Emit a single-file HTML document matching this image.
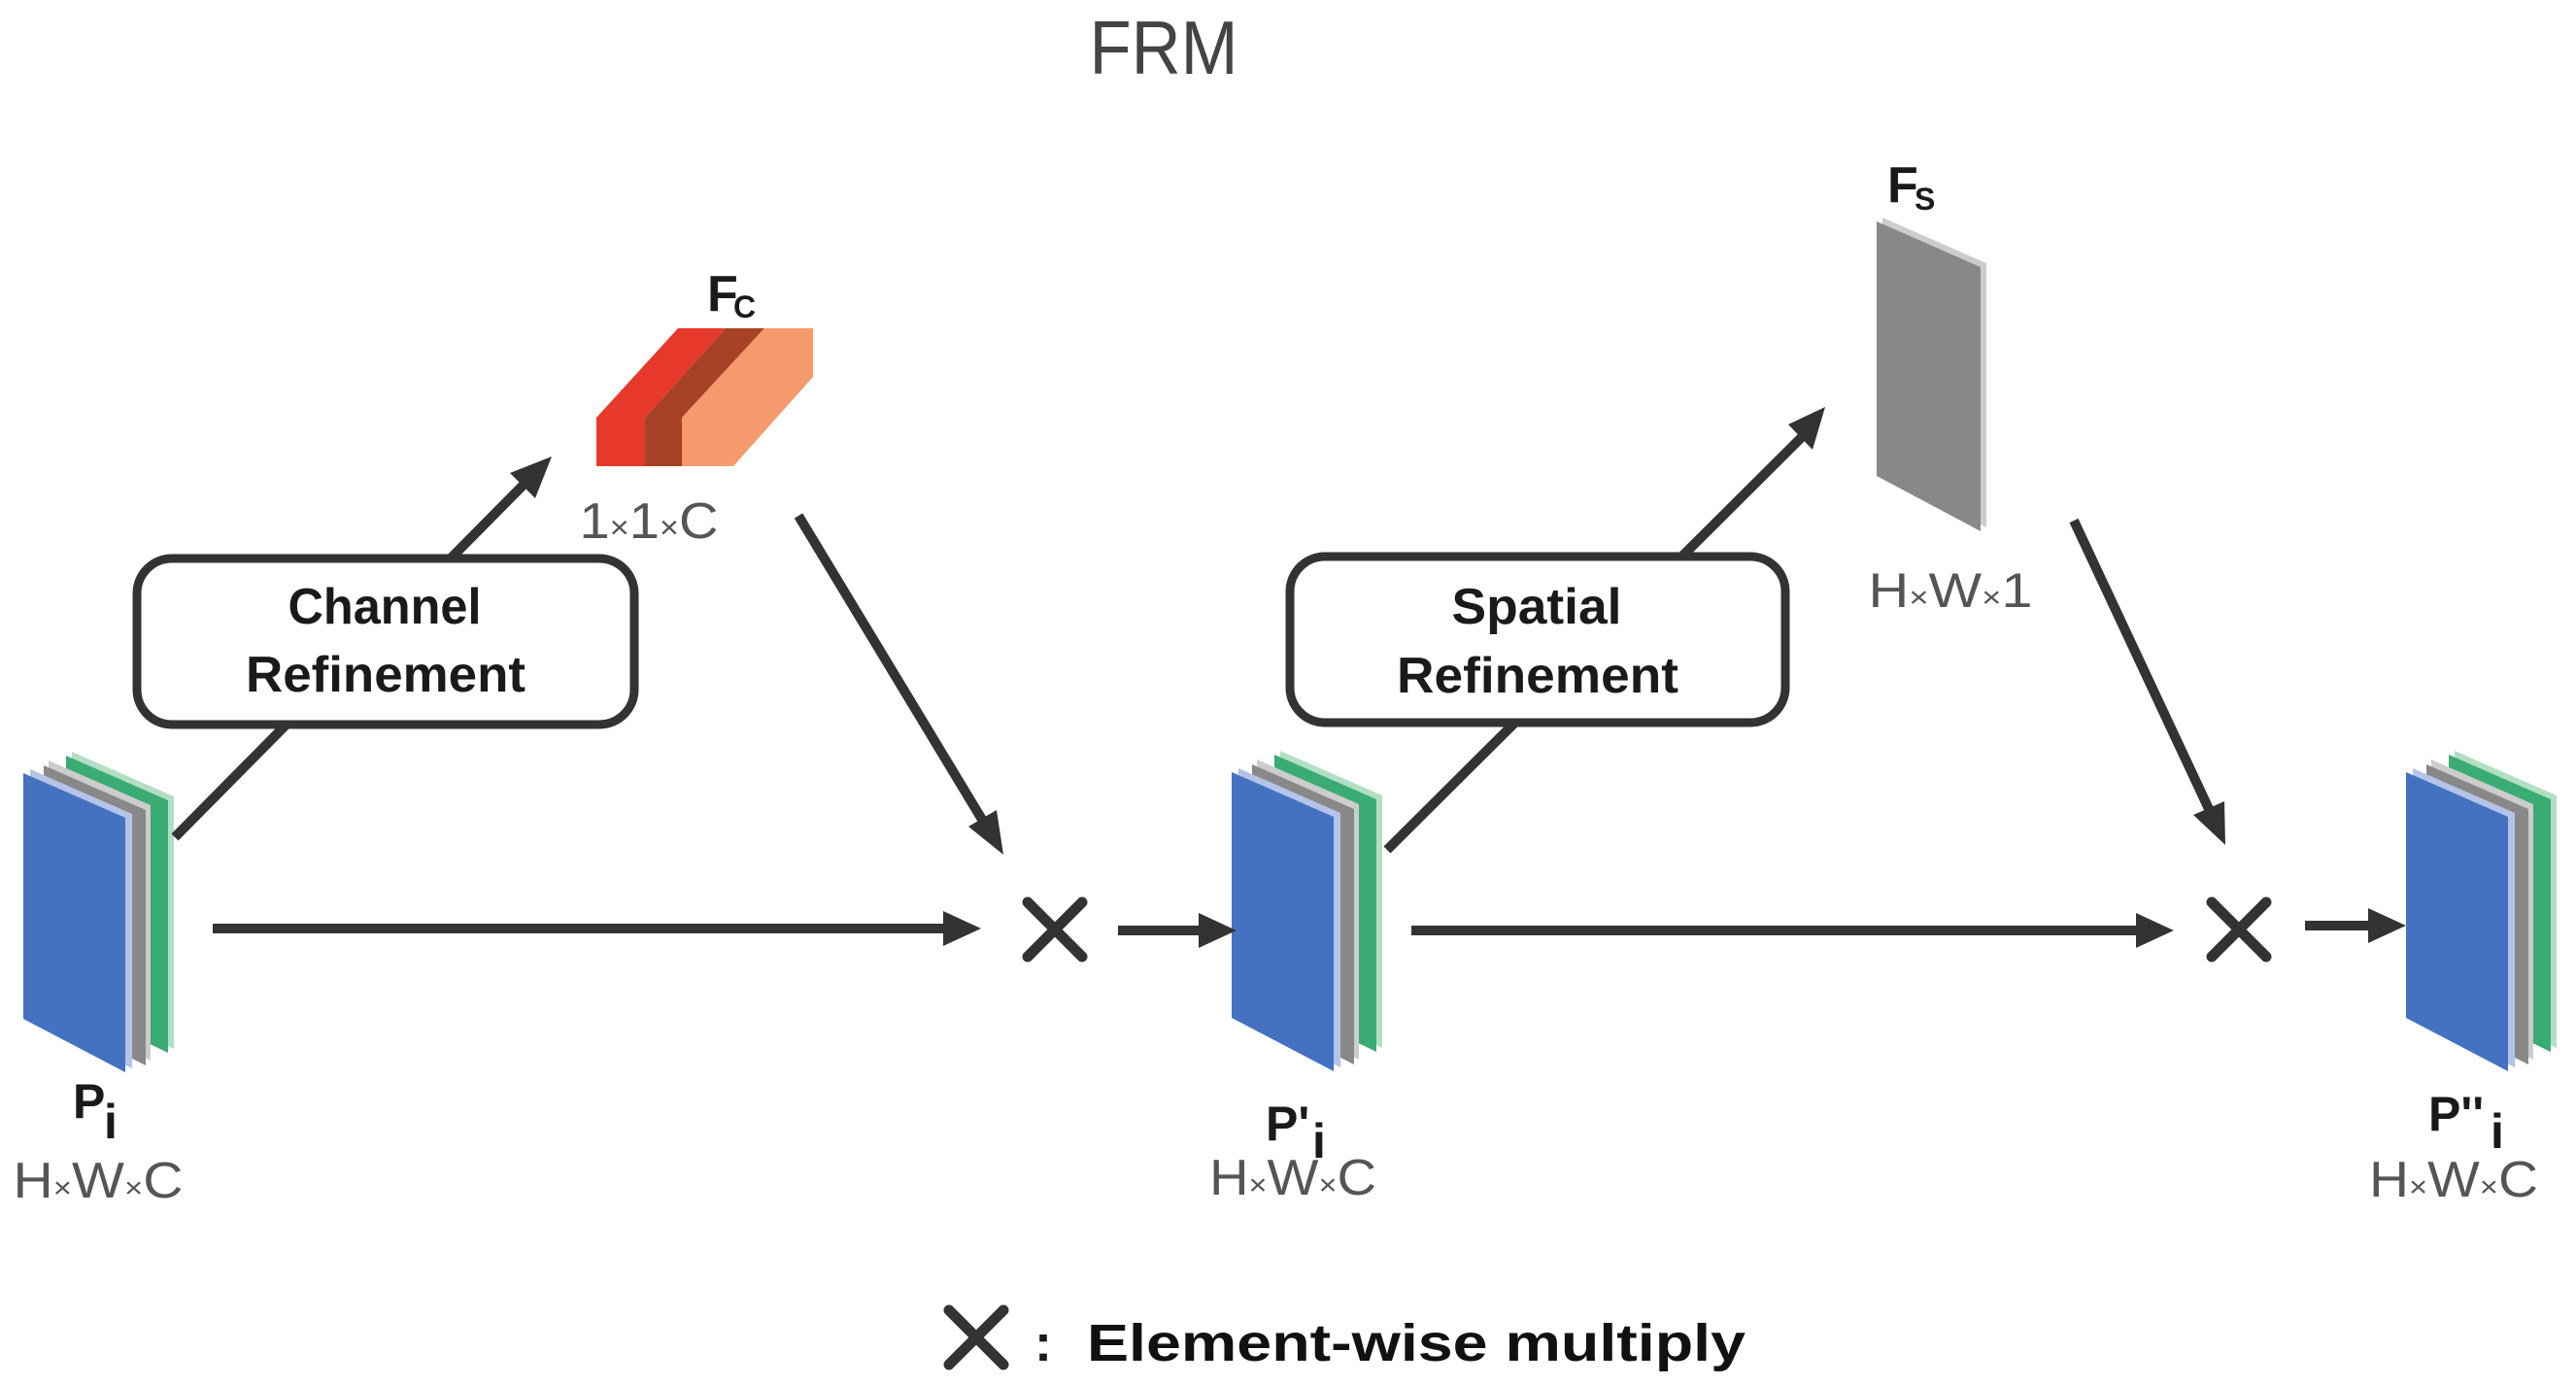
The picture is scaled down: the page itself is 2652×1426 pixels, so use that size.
<!DOCTYPE html>
<html><head><meta charset="utf-8"><style>
html,body{margin:0;padding:0;background:#fff;}
svg{display:block;}
text{font-family:"Liberation Sans",sans-serif;}
</style></head><body>
<svg width="2652" height="1426" viewBox="0 0 2652 1426" xmlns="http://www.w3.org/2000/svg">
<defs>
<g id="stack">
  <polygon points="50,-22 155,24 155,284 50,233" fill="#b2dfc4"/>
  <polygon points="44,-18 149,28 149,288 44,237" fill="#3bab74"/>
  <polygon points="26,-13 131,33 131,296 26,243" fill="#cccccc"/>
  <polygon points="21,-8 126,38 126,301 21,248" fill="#888888"/>
  <polygon points="7,-4 112,42 112,304 7,251" fill="#b3c4e8"/>
  <polygon points="0,0 105,46 105,308 0,253" fill="#4472c0"/>
</g>
<g id="xm" stroke="#333" stroke-width="11" stroke-linecap="round">
  <line x1="-28" y1="-28" x2="28" y2="28"/><line x1="-28" y1="28" x2="28" y2="-28"/>
</g>
</defs>

<text x="1198" y="76" font-size="78" fill="#444" text-anchor="middle" textLength="153" lengthAdjust="spacingAndGlyphs">FRM</text>

<use href="#stack" x="24" y="796"/>
<use href="#stack" x="1268" y="795"/>
<use href="#stack" x="2477" y="795"/>

<g stroke="#333" stroke-width="10" fill="none">
  <line x1="180" y1="862" x2="540" y2="498"/>
  <line x1="219" y1="956" x2="975" y2="956"/>
  <line x1="822" y1="531" x2="1013" y2="847"/>
  <line x1="1151" y1="958" x2="1236" y2="958"/>
  <line x1="1428" y1="875" x2="1855" y2="450"/>
  <line x1="1453" y1="958" x2="2200" y2="958"/>
  <line x1="2135" y1="536" x2="2275" y2="835"/>
  <line x1="2373" y1="953" x2="2441" y2="953"/>
</g>
<g fill="#333">
  <polygon points="568,470 551,513 525,487"/>
  <polygon points="1010,956 971,938 971,974"/>
  <polygon points="1033,880 997,851 1026,834"/>
  <polygon points="1273,958 1234,940 1234,976"/>
  <polygon points="1879,419 1866,463 1841,437"/>
  <polygon points="2238,958 2199,940 2199,976"/>
  <polygon points="2291,870 2258,839 2290,825"/>
  <polygon points="2477,953 2438,935 2438,971"/>
</g>

<rect x="141" y="575" width="512" height="171" rx="36" fill="#fff" stroke="#333" stroke-width="9"/>
<text x="396" y="642" font-size="52" font-weight="bold" fill="#1a1a1a" text-anchor="middle" textLength="199" lengthAdjust="spacingAndGlyphs">Channel</text>
<text x="397" y="712" font-size="52" font-weight="bold" fill="#1a1a1a" text-anchor="middle" textLength="288" lengthAdjust="spacingAndGlyphs">Refinement</text>

<rect x="1328" y="573" width="510" height="171" rx="36" fill="#fff" stroke="#333" stroke-width="9"/>
<text x="1582" y="642" font-size="52" font-weight="bold" fill="#1a1a1a" text-anchor="middle" textLength="175" lengthAdjust="spacingAndGlyphs">Spatial</text>
<text x="1583" y="713" font-size="52" font-weight="bold" fill="#1a1a1a" text-anchor="middle" textLength="290" lengthAdjust="spacingAndGlyphs">Refinement</text>

<polygon points="614,480 614,430 698,338 747,338 664,430 664,480" fill="#e6392b"/>
<polygon points="664,480 664,430 747,338 787,338 702,430 702,480" fill="#a84226"/>
<polygon points="702,480 702,430 787,338 837,338 837,388 755,480" fill="#f49a6d"/>
<text x="728" y="320" font-size="52" font-weight="bold" fill="#1a1a1a">F</text>
<text x="755" y="327" font-size="32" font-weight="bold" fill="#1a1a1a">C</text>
<text x="668" y="554" font-size="52" fill="#555" text-anchor="middle" textLength="143" lengthAdjust="spacingAndGlyphs">1<tspan font-size="32">×</tspan>1<tspan font-size="32">×</tspan>C</text>

<polygon points="1938,224 2045,271 2045,543 1938,486" fill="#cccccc"/>
<polygon points="1932,228 2039,275 2039,547 1932,490" fill="#888888"/>
<text x="1943" y="208" font-size="52" font-weight="bold" fill="#1a1a1a">F</text>
<text x="1971" y="216" font-size="32" font-weight="bold" fill="#1a1a1a">S</text>
<text x="2008" y="625" font-size="50" fill="#555" text-anchor="middle" textLength="169" lengthAdjust="spacingAndGlyphs">H<tspan font-size="30">×</tspan>W<tspan font-size="30">×</tspan>1</text>

<use href="#xm" x="1086" y="957"/>
<use href="#xm" x="2305" y="957"/>

<text x="75" y="1151" font-size="50" font-weight="bold" fill="#1a1a1a">P</text>
<text x="107" y="1172" font-size="50" font-weight="bold" fill="#1a1a1a">i</text>
<text x="101" y="1233" font-size="52" fill="#555" text-anchor="middle" textLength="175" lengthAdjust="spacingAndGlyphs">H<tspan font-size="30">×</tspan>W<tspan font-size="30">×</tspan>C</text>

<text x="1303" y="1174" font-size="50" font-weight="bold" fill="#1a1a1a">P'</text>
<text x="1351" y="1192" font-size="50" font-weight="bold" fill="#1a1a1a">i</text>
<text x="1331" y="1230" font-size="52" fill="#555" text-anchor="middle" textLength="172" lengthAdjust="spacingAndGlyphs">H<tspan font-size="30">×</tspan>W<tspan font-size="30">×</tspan>C</text>

<text x="2500" y="1164" font-size="50" font-weight="bold" fill="#1a1a1a">P''</text>
<text x="2564" y="1182" font-size="50" font-weight="bold" fill="#1a1a1a">i</text>
<text x="2526" y="1232" font-size="52" fill="#555" text-anchor="middle" textLength="174" lengthAdjust="spacingAndGlyphs">H<tspan font-size="30">×</tspan>W<tspan font-size="30">×</tspan>C</text>

<use href="#xm" x="1005" y="1377"/>
<text x="1065" y="1401" font-size="54" font-weight="bold" fill="#1a1a1a">:</text>
<text x="1119" y="1401" font-size="54" font-weight="bold" fill="#111" textLength="678" lengthAdjust="spacingAndGlyphs">Element-wise multiply</text>
</svg>
</body></html>
